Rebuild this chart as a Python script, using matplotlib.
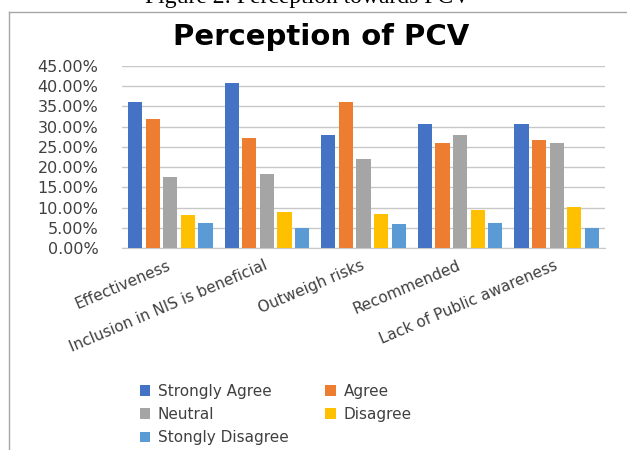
import numpy as np
import matplotlib
matplotlib.use("Agg")
import matplotlib.pyplot as plt
from matplotlib.lines import Line2D
from matplotlib.ticker import FuncFormatter

# Data (percent of respondents)
categories = ['Effectiveness', 'Inclusion in NIS is beneficial', 'Outweigh risks',
              'Recommended', 'Lack of Public awareness']
strongly_agree = [36.0, 40.7, 28.0, 30.6, 30.6]
agree = [32.0, 27.2, 36.0, 25.9, 26.6]
neutral = [17.6, 18.4, 21.9, 27.9, 25.9]
disagree = [8.2, 8.9, 8.3, 9.5, 10.1]
strongly_disagree = [6.2, 5.0, 6.0, 6.2, 5.0]

series = [strongly_agree, agree, neutral, disagree, strongly_disagree]
names = ['Strongly Agree', 'Agree', 'Neutral', 'Disagree', 'Stongly Disagree']
colors = ['#4472C4', '#ED7D31', '#A5A5A5', '#FFC000', '#5B9BD5']

W, H = 627, 450
fig = plt.figure(figsize=(W / 100, H / 100), dpi=100)
ax = fig.add_axes([122 / W, 1 - 248 / H, (605 - 122) / W, (248 - 66) / H])

x = np.arange(len(categories))
step = 0.182
bars = []
for i, (vals, name, col) in enumerate(zip(series, names, colors)):
    b = ax.bar(x + (i - 2) * step, vals, width=0.148, color=col, label=name, zorder=3)
    bars.append(b)

ax.set_xlim(-0.5, len(categories) - 0.5)
ax.set_ylim(0, 45)
ax.set_yticks(np.arange(0, 46, 5))
ax.yaxis.set_major_formatter(FuncFormatter(lambda v, p: f'{v:.2f}%'))
ax.grid(axis='y', color='#c8c8c8', linewidth=1, zorder=0)
for s in ['top', 'right', 'left']:
    ax.spines[s].set_visible(False)
ax.spines['bottom'].set_color('#c8c8c8')
ax.tick_params(axis='y', length=0, pad=17, labelsize=11.5, labelcolor='#404040')
ax.tick_params(axis='x', length=0, pad=12, labelsize=11, labelcolor='#404040')
ax.set_xticks(x)
ax.set_xticklabels(categories, rotation=23, ha='right', va='center', rotation_mode='anchor')

# title and cut-off caption
fig.text(321 / W, 1 - 37 / H, 'Perception of PCV', ha='center', va='center',
         fontsize=21, fontweight='bold', color='black')
fig.text(308 / W, 1 - 3 / H, 'Figure 2: Perception towards PCV', ha='center', va='baseline',
         fontsize=17, family='Liberation Serif', color='black')

# frame lines
fig.add_artist(Line2D([9 / W, 1], [1 - 12 / H, 1 - 12 / H], color='#a6a6a6', lw=1))
fig.add_artist(Line2D([9 / W, 9 / W], [0, 1 - 12 / H], color='#a6a6a6', lw=1))

# legend, row-major order
order = [0, 2, 4, 1, 3]
fig.legend([bars[i] for i in order], [names[i] for i in order], ncol=2,
           loc='upper left', bbox_to_anchor=(132 / W, 1 - 376 / H), frameon=False,
           fontsize=11, handlelength=0.7, handleheight=0.7, handletextpad=0.5,
           columnspacing=2.4, labelspacing=0.55, borderpad=0, labelcolor='#404040')

fig.savefig('out.png', dpi=100)
